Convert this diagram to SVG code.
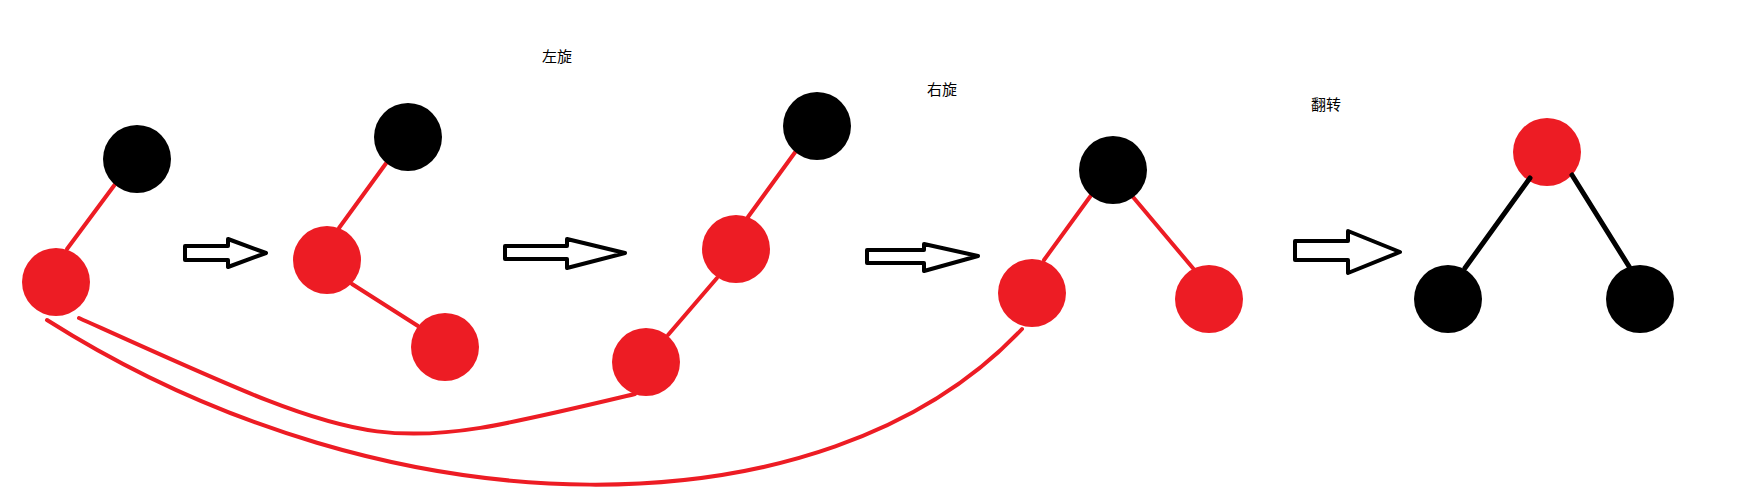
<svg xmlns="http://www.w3.org/2000/svg" width="1761" height="500" viewBox="0 0 1761 500">
<style>
.r{fill:#ED1C24}
.b{fill:#000}
.lr{stroke:#ED1C24;stroke-width:4;stroke-linecap:round;fill:none}
.lb{stroke:#000;stroke-width:5;stroke-linecap:round;fill:none}
.ar{fill:#fff;stroke:#000;stroke-width:4;stroke-linejoin:round}
.t{font-family:"Noto Sans CJK SC","Noto Sans",sans-serif;font-size:15px;fill:#000;text-anchor:middle;dominant-baseline:central}
</style>
<rect width="1761" height="500" fill="#fff"/>
<g id="connectors">
<line class="lr" x1="116" y1="183" x2="67" y2="249"/>
<line class="lr" x1="387" y1="162" x2="339" y2="228"/>
<line class="lr" x1="352" y1="284" x2="418" y2="326"/>
<line class="lr" x1="796" y1="151" x2="748" y2="217"/>
<line class="lr" x1="717" y1="278" x2="668" y2="335"/>
<line class="lr" x1="1092" y1="194" x2="1044" y2="260"/>
<line class="lr" x1="1133" y1="197" x2="1197" y2="273"/>
<path class="lr" d="M47,320 C391,538 826,538 1022,329"/>
<path class="lr" d="M79,318 C385,456 375,456 635,394"/>
</g>
<g id="n1"><circle class="b" cx="137" cy="159" r="34"/></g>
<g id="n2"><circle class="r" cx="56" cy="282" r="34"/></g>
<g id="n3"><circle class="b" cx="408" cy="137" r="34"/></g>
<g id="n4"><circle class="r" cx="327" cy="260" r="34"/></g>
<g id="n5"><circle class="r" cx="445" cy="347" r="34"/></g>
<g id="n6"><circle class="b" cx="817" cy="126" r="34"/></g>
<g id="n7"><circle class="r" cx="736" cy="249" r="34"/></g>
<g id="n8"><circle class="r" cx="646" cy="362" r="34"/></g>
<g id="n9"><circle class="b" cx="1113" cy="170" r="34"/></g>
<g id="n10"><circle class="r" cx="1032" cy="293" r="34"/></g>
<g id="n11"><circle class="r" cx="1209" cy="299" r="34"/></g>
<g id="n12"><circle class="r" cx="1547" cy="152" r="34"/></g>
<g id="n13"><circle class="b" cx="1448" cy="299" r="34"/></g>
<g id="n14"><circle class="b" cx="1640" cy="299" r="34"/></g>
<g id="connectors-black">
<line class="lb" x1="1530" y1="178" x2="1465" y2="268"/>
<line class="lb" x1="1572" y1="175" x2="1630" y2="268"/>
</g>
<g id="arrows">
<polygon class="ar" points="185,246 228,246 228,239 266,253 228,267 228,260 185,260"/>
<polygon class="ar" points="505,246 567,246 567,239 625,253 567,268 567,259 505,259"/>
<polygon class="ar" points="867,250 924,250 924,244 978,256 924,271 924,263 867,263"/>
<polygon class="ar" points="1295,241 1348,241 1348,231 1400,252 1348,273 1348,260 1295,260"/>
</g>
<g id="labels">
<text class="t" x="557" y="55">左旋</text>
<text class="t" x="942" y="88">右旋</text>
<text class="t" x="1326" y="103">翻转</text>
</g>
</svg>
